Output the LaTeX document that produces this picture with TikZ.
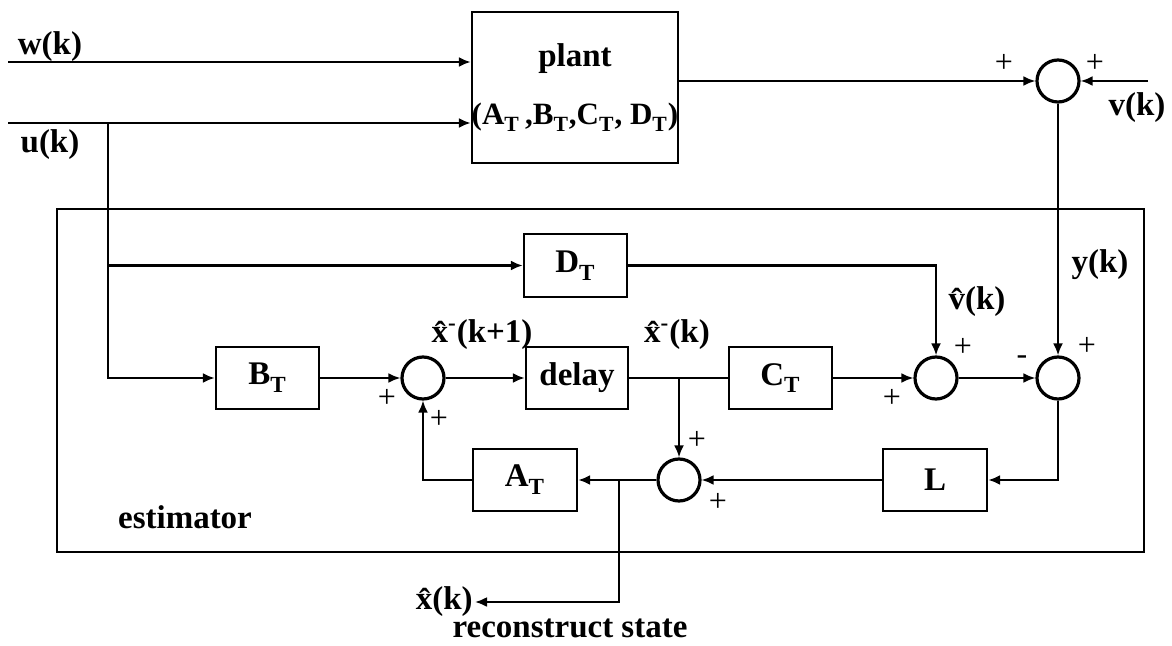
\documentclass[tikz,border=0pt]{standalone}
\usepackage{fontspec}
\setmainfont{Liberation Serif}
\usetikzlibrary{arrows.meta}
\newcommand{\Tsub}[1]{#1\textsubscript{\raisebox{-0.25ex}{T}}}
\tikzset{
  every node/.style={font=\fontsize{16.5}{19}\selectfont\bfseries},
  blk/.style={draw, line width=1.2pt, rectangle, inner sep=0pt},
  sumc/.style={draw, line width=1.6pt, circle, minimum size=21pt, inner sep=0pt},
  wire/.style={line width=1.1pt},
  arr/.style={wire, -{Latex[length=6pt,width=5pt]}},
  sgn/.style={font=\fontsize{16}{17}\selectfont, inner sep=0pt},
}
\begin{document}
\begin{tikzpicture}[x=0.5pt,y=-0.5pt]
\useasboundingbox (0,0) rectangle (1172,646);
% estimator frame
\node[blk, minimum width=543.5pt, minimum height=171.5pt] (est) at (600.5,380.5) {};
% blocks
\node[blk, minimum width=103pt, minimum height=75.5pt, align=center] (plant) at (575,87.5)
  {plant\\[10pt]\makebox[0pt][c]{\fontsize{15.5}{18}\selectfont(\Tsub{A}\,,\Tsub{B},\Tsub{C}, \Tsub{D})}};
\node[blk, minimum width=51.5pt, minimum height=31.5pt] (Dt) at (575.5,265.5) {\Tsub{D}};
\node[blk, minimum width=51.5pt, minimum height=31pt] (Bt) at (267.5,378) {\Tsub{B}};
\node[blk, minimum width=51pt, minimum height=31pt] (delay) at (577,378) {delay};
\node[blk, minimum width=51.5pt, minimum height=31pt] (Ct) at (780.5,378) {\Tsub{C}};
\node[blk, minimum width=52pt, minimum height=31pt] (At) at (525,480) {\Tsub{A}};
\node[blk, minimum width=52pt, minimum height=31pt] (L) at (935,480) {L};
% summing junctions
\node[sumc] (s0) at (1058,81) {};
\node[sumc] (s1) at (423,378) {};
\node[sumc] (s2) at (936,378) {};
\node[sumc] (s3) at (1058,378) {};
\node[sumc] (s4) at (679,480) {};
% coordinates
\coordinate (win) at (8,62);
\coordinate (uin) at (8,123);
\coordinate (ub) at (108,123);
\coordinate (vin) at (1148,81);
\coordinate (br1) at (679,378);
\coordinate (br2) at (619,480);
\coordinate (xo) at (475,602);
% connectors
\draw[arr] (win) -- (win -| plant.west);
\draw[arr] (uin) -- (uin -| plant.west);
\draw[arr] (ub) |- (Bt.west);
\draw[arr] (ub |- Dt.west) -- (Dt.west);
\draw[arr] (plant.east |- s0) -- (s0.west);
\draw[arr] (vin) -- (s0.east);
\draw[arr] (s0.south) -- (s3.north);
\draw[arr] (Dt.east) -| (s2.north);
\draw[arr] (Bt.east) -- (s1.west);
\draw[arr] (s1.east) -- (delay.west);
\draw[wire] (delay.east) -- (Ct.west);
\draw[arr] (Ct.east) -- (s2.west);
\draw[arr] (s2.east) -- (s3.west);
\draw[arr] (br1) -- (s4.north);
\draw[arr] (s3.south) |- (L.east);
\draw[arr] (L.west) -- (s4.east);
\draw[arr] (s4.west) -- (At.east);
\draw[arr] (At.west) -| (s1.south);
\draw[arr] (br2) |- (xo);
% labels
\node (lw) at (50,47) {w(k)};
\node (lu) at (50,145) {u(k)};
\node (lv) at (1137,108) {v(k)};
\node (ly) at (1100,265) {y(k)};
\node (lvh) at (977,302) {\^v(k)};
\node (lx1) at (482,335) {\^x\textsuperscript{-}(k+1)};
\node (lx0) at (677,335) {\^x\textsuperscript{-}(k)};
\node (lest) at (185,517) {estimator};
\node[anchor=east, inner sep=1pt] (lxh) at (xo) {\^x(k)};
\node (lrs) at (570,628) {reconstruct state};
% signs
\node[sgn] (p1) at (1004,63) {+};
\node[sgn] (p2) at (1095,63) {+};
\node[sgn] (p3) at (387,398) {+};
\node[sgn] (p4) at (439,419) {+};
\node[sgn] (p5) at (963,347) {+};
\node[sgn] (p6) at (892,398) {+};
\node[sgn] (m1) at (1022,360) {-};
\node[sgn] (p7) at (1087,346) {+};
\node[sgn] (p8) at (697,440) {+};
\node[sgn] (p9) at (718,502) {+};
\end{tikzpicture}
\end{document}
